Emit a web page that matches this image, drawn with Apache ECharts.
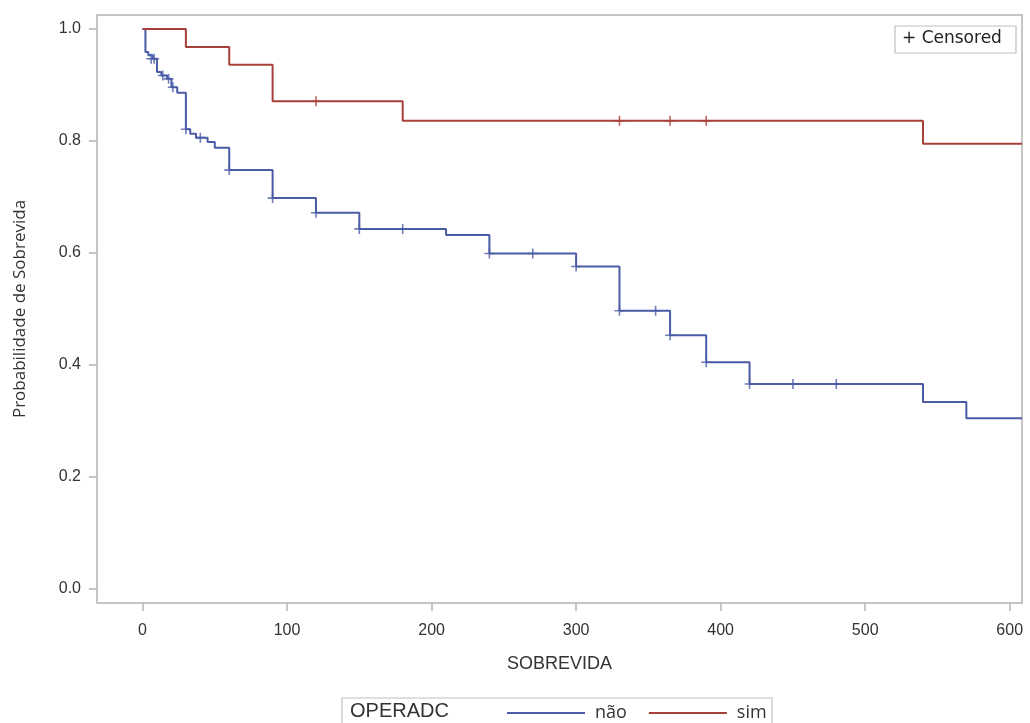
<!DOCTYPE html>
<html>
<head>
<meta charset="utf-8">
<script src="https://cdn.jsdelivr.net/npm/echarts@6/dist/echarts.min.js"></script>
<style>
html,body{margin:0;padding:0;background:#fff;}
#chart{width:1030px;height:723px;}
</style>
</head>
<body>
<div id="chart"></div>
<script>
// ---- data ----
const xTicks = [0, 100, 200, 300, 400, 500, 600];
const yTicks = [0, 0.2, 0.4, 0.6, 0.8, 1.0];
const groups = ['não', 'sim'];
const endTime = 608.5;

// Kaplan-Meier steps for "não"
const naoTimes = [0, 2, 4, 7, 10, 13, 17, 20, 24, 30, 33, 37, 45, 50, 60, 90, 120, 150, 210, 240, 300, 330, 365, 390, 420, 540, 570];
const naoSurv  = [1.0, 0.959, 0.953, 0.947, 0.923, 0.917, 0.911, 0.896, 0.886, 0.821, 0.813, 0.806, 0.798, 0.788, 0.748, 0.698, 0.672, 0.643, 0.632, 0.599, 0.576, 0.497, 0.453, 0.405, 0.366, 0.334, 0.305];
const naoCensorTimes = [6, 8, 14, 18, 21, 30, 40, 60, 90, 120, 150, 180, 240, 270, 300, 330, 355, 365, 390, 420, 450, 480];
const naoCensorSurv  = [0.947, 0.947, 0.917, 0.911, 0.896, 0.821, 0.806, 0.748, 0.698, 0.672, 0.643, 0.643, 0.599, 0.599, 0.576, 0.497, 0.497, 0.453, 0.405, 0.366, 0.366, 0.366];

// Kaplan-Meier steps for "sim"
const simTimes = [0, 30, 60, 90, 180, 540];
const simSurv  = [1.0, 0.968, 0.936, 0.871, 0.836, 0.795];
const simCensorTimes = [120, 330, 365, 390];
const simCensorSurv  = [0.871, 0.836, 0.836, 0.836];

// ---- build ----
const blue = '#4b5ca6';
const red = '#a8403a';
function stepData(times, surv) {
  const d = times.map((t, i) => [t, surv[i]]);
  d.push([endTime, surv[surv.length - 1]]);
  return d;
}
function pairs(a, b) { return a.map((t, i) => [t, b[i]]); }
const plusPath = 'path://M5,0L5,10M0,5L10,5';

const chart = echarts.init(document.getElementById('chart'), null, {renderer: 'canvas'});
const font = 'Liberation Sans, Arial, sans-serif';
chart.setOption({
  animation: false,
  backgroundColor: '#fff',
  grid: {left: 97, top: 15, right: 8, bottom: 120, show: true, borderColor: '#b4b4b4', borderWidth: 1.5,
    containLabel: false, outerBoundsMode: 'none'},
  xAxis: {
    type: 'value', min: -31.5, max: 608.5,
    name: 'SOBREVIDA', nameLocation: 'middle', nameGap: 52,
    nameTextStyle: {fontSize: 18, color: '#333', fontFamily: font},
    axisLine: {show: false, onZero: false},
    axisTick: {show: true, inside: false, length: 8, lineStyle: {color: '#b4b4b4', width: 1.5}, customValues: xTicks},
    axisLabel: {fontSize: 16, color: '#333', fontFamily: font, margin: 20, customValues: xTicks},
    splitLine: {show: false}
  },
  yAxis: {
    type: 'value', min: -0.025, max: 1.025,
    name: 'Probabilidade de Sobrevida', nameLocation: 'middle', nameGap: 68, nameRotate: 90,
    nameTextStyle: {fontSize: 17, color: '#333', fontFamily: 'Open Sans, Noto Sans, sans-serif'},
    axisLine: {show: false, onZero: false},
    axisTick: {show: true, inside: false, length: 8, lineStyle: {color: '#b4b4b4', width: 1.5}, customValues: yTicks},
    axisLabel: {fontSize: 16, color: '#333', fontFamily: font, margin: 16, customValues: yTicks,
      formatter: v => Number(v).toFixed(1)},
    splitLine: {show: false}
  },
  legend: {
    data: groups, left: 502, top: 699, icon: 'rect', itemWidth: 78, itemHeight: 2, itemGap: 22,
    textStyle: {fontSize: 18, color: '#333', fontFamily: 'Open Sans, Noto Sans, sans-serif', padding: [0, 0, 0, 5]},
    selectedMode: false
  },
  series: [
    {name: groups[0], type: 'line', step: 'end', data: stepData(naoTimes, naoSurv), symbol: 'none',
     lineStyle: {color: blue, width: 2}, itemStyle: {color: blue}},
    {name: groups[1], type: 'line', step: 'end', data: stepData(simTimes, simSurv), symbol: 'none',
     lineStyle: {color: red, width: 2}, itemStyle: {color: red}},
    {name: 'nãoCens', type: 'scatter', data: pairs(naoCensorTimes, naoCensorSurv), symbol: plusPath, symbolSize: 10,
     itemStyle: {color: 'rgba(0,0,0,0)', borderColor: blue, borderWidth: 1.6}},
    {name: 'simCens', type: 'scatter', data: pairs(simCensorTimes, simCensorSurv), symbol: plusPath, symbolSize: 10,
     itemStyle: {color: 'rgba(0,0,0,0)', borderColor: red, borderWidth: 1.6}}
  ],
  graphic: [
    {type: 'rect', shape: {x: 895, y: 26, width: 121, height: 27}, style: {fill: '#fff', stroke: '#c0c0c0', lineWidth: 1.2}, z: 10},
    {type: 'text', x: 902, y: 30, style: {text: '+ Censored', fontSize: 17, fill: '#222', fontFamily: 'DejaVu Sans, sans-serif'}, z: 11},
    {type: 'rect', shape: {x: 342, y: 698, width: 430, height: 34}, style: {fill: 'none', stroke: '#c0c0c0', lineWidth: 1.2}, z: 1},
    {type: 'text', x: 350, y: 701, style: {text: 'OPERADC', fontSize: 20, fill: '#333', fontFamily: 'Liberation Sans, Arial, sans-serif'}, z: 2}
  ]
});
</script>
</body>
</html>
